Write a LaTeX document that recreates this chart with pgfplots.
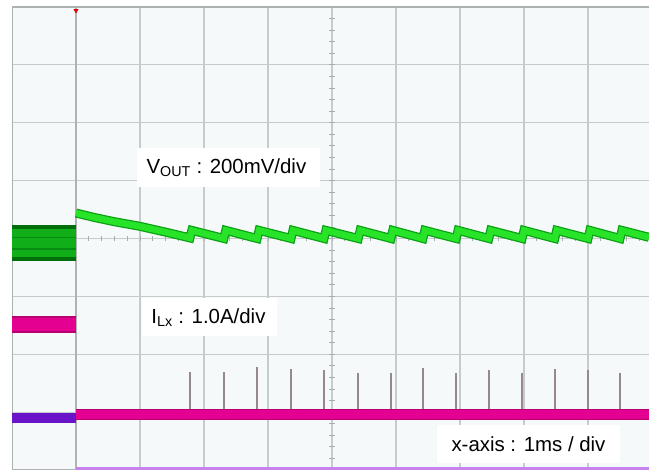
\documentclass[border=0pt]{standalone}
\usepackage{pgfplots}
\pgfplotsset{compat=1.18}
\usepackage{fontspec}
\setmainfont{Liberation Sans}
\definecolor{bgc}{RGB}{245,249,249}
\definecolor{gridc}{RGB}{198,204,204}
\definecolor{borderc}{RGB}{172,178,178}
\definecolor{vgreen}{RGB}{40,228,40}
\definecolor{dgreen}{RGB}{10,160,20}
\definecolor{pgreen}{RGB}{0,110,10}
\definecolor{mag}{RGB}{228,0,145}
\definecolor{dmag}{RGB}{185,0,115}
\definecolor{purp}{RGB}{105,20,200}
\definecolor{lav}{RGB}{200,130,235}
\definecolor{spikec}{RGB}{150,135,145}
\begin{document}
\begin{tikzpicture}
\useasboundingbox (0,0) rectangle (649bp,471bp);
\begin{axis}[
  at={(12bp,1bp)}, anchor=south west,
  scale only axis, width=637bp, height=463bp,
  xmin=0, xmax=9.953, ymin=0, ymax=8,
  axis line style={draw=none},
  axis background/.style={fill=bgc},
  xtick={1,...,9}, ytick={1,...,7},
  xticklabels={}, yticklabels={},
  major tick length=0pt,
  grid=major,
  grid style={gridc, line width=1.1bp},
  unbounded coords=jump,
]
% borders
\draw[borderc, line width=2bp] (axis cs:0,0) -- (axis cs:0,8) -- (axis cs:9.953,8);
\draw[borderc, line width=1.5bp] (axis cs:0,0) -- (axis cs:9.953,0);
\draw[gray!60, line width=1.2bp] (axis cs:1,0) -- (axis cs:1,8);
% center minor ticks
\pgfplotsinvokeforeach{1,...,39}{\draw[gridc!85!black, line width=0.8bp] (axis cs:4.95,#1*0.2) -- (axis cs:5.05,#1*0.2);}
\pgfplotsinvokeforeach{1,...,49}{\draw[gridc!85!black, line width=0.8bp] (axis cs:#1*0.2,3.95) -- (axis cs:#1*0.2,4.05);}

% pre-trigger bands
\addplot[draw=none, fill=pgreen] coordinates {(0,3.61)(1,3.61)(1,4.23)(0,4.23)} --cycle;
\addplot[dgreen!80!vgreen, line width=28bp] coordinates {(0,3.92)(1,3.92)};
\addplot[dgreen!60!pgreen, line width=1.2bp] coordinates {(0,3.82)(1,3.82)};
\addplot[dgreen!60!pgreen, line width=1.2bp] coordinates {(0,4.02)(1,4.02)};
\addplot[dmag, line width=17bp] coordinates {(0,2.515)(1,2.515)};
\addplot[mag, line width=13bp] coordinates {(0,2.515)(1,2.515)};
\addplot[purp, line width=10bp] coordinates {(0,0.90)(1,0.90)};

% current spikes (I_Lx)
\addplot[spikec, line width=1.3bp] coordinates {
(2.781,0.97)(2.781,1.69)(2.781,nan)
(3.313,0.97)(3.313,1.69)(3.313,nan)
(3.828,0.97)(3.828,1.78)(3.828,nan)
(4.359,0.97)(4.359,1.745)(4.359,nan)
(4.875,0.97)(4.875,1.73)(4.875,nan)
(5.406,0.97)(5.406,1.68)(5.406,nan)
(5.922,0.97)(5.922,1.68)(5.922,nan)
(6.422,0.97)(6.422,1.76)(6.422,nan)
(6.938,0.97)(6.938,1.68)(6.938,nan)
(7.453,0.97)(7.453,1.73)(7.453,nan)
(7.969,0.97)(7.969,1.68)(7.969,nan)
(8.484,0.97)(8.484,1.745)(8.484,nan)
(9.000,0.97)(9.000,1.73)(9.000,nan)
(9.500,0.97)(9.500,1.68)
};

% post-trigger I_Lx baseline
\addplot[dmag, line width=11bp] coordinates {(1,0.955)(9.953,0.955)};
\addplot[mag, line width=8.5bp] coordinates {(1,0.955)(9.953,0.955)};
% post-trigger purple channel
\addplot[lav, line width=3bp] coordinates {(1,0.02)(9.953,0.02)};

% V_OUT trace
\pgfplotsset{vout/.style={line join=miter}}
\addplot[dgreen, line width=9bp, vout] coordinates {
(1.0,4.44)(1.3,4.36)(1.6,4.29)(2.0,4.21)(2.4,4.11)(2.78,4.01)
(2.81,4.14)(3.31,4.0)(3.34,4.14)(3.83,4.0)(3.86,4.14)(4.36,4.0)(4.39,4.14)(4.875,4.0)(4.905,4.14)(5.41,4.0)(5.44,4.14)(5.92,4.0)(5.95,4.14)(6.42,4.0)(6.45,4.14)(6.94,4.0)(6.97,4.14)(7.45,4.0)(7.48,4.14)(7.97,4.0)(8.0,4.14)(8.48,4.0)(8.51,4.14)(9.0,4.0)(9.03,4.14)(9.5,4.0)(9.53,4.14)(9.953,4.02)
};
\addplot[vgreen, line width=6.5bp, vout] coordinates {
(1.0,4.44)(1.3,4.36)(1.6,4.29)(2.0,4.21)(2.4,4.11)(2.78,4.01)
(2.81,4.14)(3.31,4.0)(3.34,4.14)(3.83,4.0)(3.86,4.14)(4.36,4.0)(4.39,4.14)(4.875,4.0)(4.905,4.14)(5.41,4.0)(5.44,4.14)(5.92,4.0)(5.95,4.14)(6.42,4.0)(6.45,4.14)(6.94,4.0)(6.97,4.14)(7.45,4.0)(7.48,4.14)(7.97,4.0)(8.0,4.14)(8.48,4.0)(8.51,4.14)(9.0,4.0)(9.03,4.14)(9.5,4.0)(9.53,4.14)(9.953,4.02)
};

% trigger marker
\addplot[only marks, mark=triangle*, mark size=2.5bp, mark options={rotate=180, fill=red!85!black, draw=red!85!black}] coordinates {(1,7.94)};

% labels
\fill[white] (axis cs:1.953,4.89) rectangle (axis cs:4.813,5.564);
\node[font=\fontsize{20.5}{24}\selectfont] at (axis cs:3.35,5.227) {V\textsubscript{OUT} : 200mV/div};
\fill[white] (axis cs:2.031,2.315) rectangle (axis cs:4.141,2.972);
\node[font=\fontsize{20.5}{24}\selectfont] at (axis cs:3.07,2.64) {I\textsubscript{Lx} : 1.0A/div};
\fill[white] (axis cs:6.641,0.121) rectangle (axis cs:9.5,0.778);
\node[font=\fontsize{20.5}{24}\selectfont] at (axis cs:8.07,0.45) {x-axis : 1ms / div};
\end{axis}
\end{tikzpicture}
\end{document}
